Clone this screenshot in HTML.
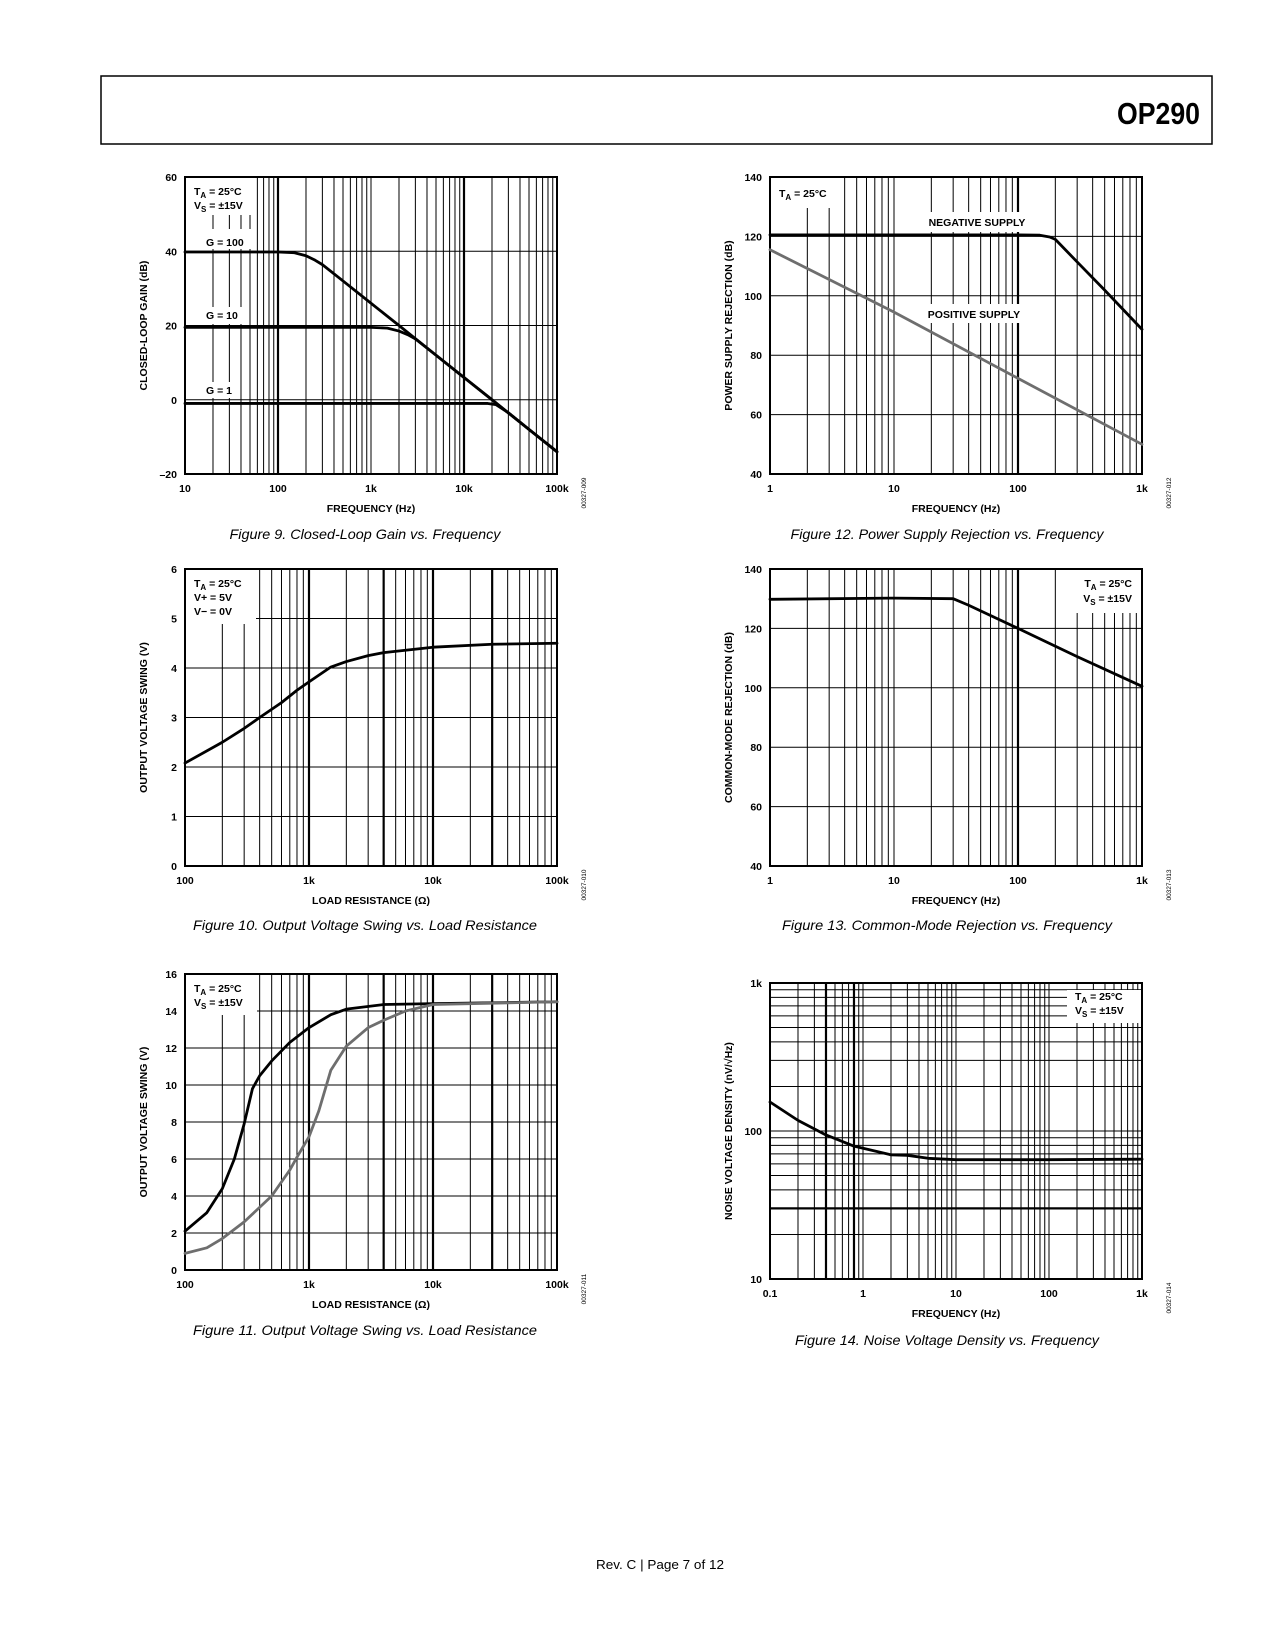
<!DOCTYPE html>
<html><head><meta charset="utf-8"><title>OP290 Typical Performance Characteristics</title>
<style>
html,body{margin:0;padding:0;background:#fff;}
svg{display:block;font-family:"Liberation Sans",Arial,sans-serif;}
.b{font-weight:bold;font-size:10.5px;}
.cap{font-style:italic;font-size:14px;}
</style></head>
<body>
<svg id="page" xmlns="http://www.w3.org/2000/svg" width="1275" height="1650" viewBox="0 0 1275 1650">
<rect x="0" y="0" width="1275" height="1650" fill="#fff"/>
<rect x="101" y="76" width="1111" height="68" fill="none" stroke="#000" stroke-width="1.5"/>
<text x="1200" y="124" text-anchor="end" font-size="31" font-weight="bold" textLength="83" lengthAdjust="spacingAndGlyphs">OP290</text>

<text class="cap" x="365" y="539" text-anchor="middle" textLength="271" lengthAdjust="spacingAndGlyphs">Figure 9. Closed-Loop Gain vs. Frequency</text>
<text class="cap" x="947" y="539" text-anchor="middle" textLength="313" lengthAdjust="spacingAndGlyphs">Figure 12. Power Supply Rejection vs. Frequency</text>
<text class="cap" x="365" y="930" text-anchor="middle" textLength="344" lengthAdjust="spacingAndGlyphs">Figure 10. Output Voltage Swing vs. Load Resistance</text>
<text class="cap" x="947" y="930" text-anchor="middle" textLength="330" lengthAdjust="spacingAndGlyphs">Figure 13. Common-Mode Rejection vs. Frequency</text>
<text class="cap" x="365" y="1335" text-anchor="middle" textLength="344" lengthAdjust="spacingAndGlyphs">Figure 11. Output Voltage Swing vs. Load Resistance</text>
<text class="cap" x="947" y="1345" text-anchor="middle" textLength="304" lengthAdjust="spacingAndGlyphs">Figure 14. Noise Voltage Density vs. Frequency</text>
<text x="660" y="1569" text-anchor="middle" font-size="13" textLength="128" lengthAdjust="spacingAndGlyphs">Rev. C | Page 7 of 12</text>
<g id="charts"></g>
<g id="legends">
  <text class="b" x="194" y="195">T<tspan font-size="8" dy="3">A</tspan><tspan dy="-3"> = 25°C</tspan></text>
  <text class="b" x="194" y="209">V<tspan font-size="8" dy="3">S</tspan><tspan dy="-3"> = ±15V</tspan></text>
  <text class="b" x="206" y="246">G = 100</text>
  <text class="b" x="206" y="319">G = 10</text>
  <text class="b" x="206" y="394">G = 1</text>
  <text class="b" x="779" y="197">T<tspan font-size="8" dy="3">A</tspan><tspan dy="-3"> = 25°C</tspan></text>
  <text class="b" x="977" y="226" text-anchor="middle">NEGATIVE SUPPLY</text>
  <text class="b" x="974" y="318" text-anchor="middle">POSITIVE SUPPLY</text>
  <text class="b" x="194" y="587">T<tspan font-size="8" dy="3">A</tspan><tspan dy="-3"> = 25°C</tspan></text>
  <text class="b" x="194" y="601">V+ = 5V</text>
  <text class="b" x="194" y="615">V− = 0V</text>
  <text class="b" x="1132" y="587" text-anchor="end">T<tspan font-size="8" dy="3">A</tspan><tspan dy="-3"> = 25°C</tspan></text>
  <text class="b" x="1132" y="602" text-anchor="end">V<tspan font-size="8" dy="3">S</tspan><tspan dy="-3"> = ±15V</tspan></text>
  <text class="b" x="194" y="992">T<tspan font-size="8" dy="3">A</tspan><tspan dy="-3"> = 25°C</tspan></text>
  <text class="b" x="194" y="1006">V<tspan font-size="8" dy="3">S</tspan><tspan dy="-3"> = ±15V</tspan></text>
  <text class="b" x="1075" y="1000">T<tspan font-size="8" dy="3">A</tspan><tspan dy="-3"> = 25°C</tspan></text>
  <text class="b" x="1075" y="1014">V<tspan font-size="8" dy="3">S</tspan><tspan dy="-3"> = ±15V</tspan></text>
</g>
</svg>
<script>
// ---------- data ----------
const fig9XLabels = ['10','100','1k','10k','100k'];
const fig9YTicks = [-20,0,20,40,60];
const fig9YLabels = ['–20','0','20','40','60'];
const fig9G100Freq = [10,100,150,200,250,300,500,1000,2000,5000,10000,20000,50000,100000];
const fig9G100Gain = [39.8,39.8,39.6,38.8,37.6,36.4,32,26,20,12,6,0,-8,-14];
const fig9G10Freq = [10,1000,1500,2000,2500,3000,5000,10000,20000,50000,100000];
const fig9G10Gain = [19.5,19.5,19.3,18.5,17.5,16.4,12,6,0,-8,-14];
const fig9G1Freq = [10,10000,18000,22000,30000,50000,100000];
const fig9G1Gain = [-1,-1,-1,-1.3,-3.5,-8,-14];

const fig12XLabels = ['1','10','100','1k'];
const fig12YTicks = [40,60,80,100,120,140];
const fig12NegFreq = [1,100,150,180,200,300,500,1000];
const fig12NegPsr = [120.5,120.5,120.4,119.8,119,111.4,101.9,88.7];
const fig12PosFreq = [1,10,100,1000];
const fig12PosPsr = [115.5,94.5,72.2,50];

const fig10XLabels = ['100','1k','10k','100k'];
const fig10YTicks = [0,1,2,3,4,5,6];
const fig10Load = [100,200,300,400,600,800,1000,1500,2000,3000,4000,10000,30000,100000];
const fig10Swing = [2.08,2.5,2.78,3.0,3.3,3.55,3.72,4.02,4.13,4.25,4.31,4.42,4.48,4.5];

const fig13XLabels = ['1','10','100','1k'];
const fig13YTicks = [40,60,80,100,120,140];
const fig13Freq = [1,10,30,40,100,300,1000];
const fig13Cmr = [129.8,130.2,130,127.8,120,110.5,100.5];

const fig11XLabels = ['100','1k','10k','100k'];
const fig11YTicks = [0,2,4,6,8,10,12,14,16];
const fig11BlackLoad = [100,150,200,250,300,350,400,500,700,1000,1500,2000,4000,10000,100000];
const fig11BlackSwing = [2.1,3.1,4.4,6,7.9,9.8,10.5,11.3,12.3,13.1,13.8,14.1,14.35,14.4,14.5];
const fig11GrayLoad = [100,150,200,300,500,700,800,1000,1200,1500,2000,3000,4000,6000,10000,100000];
const fig11GraySwing = [0.9,1.2,1.7,2.6,4,5.4,6.1,7.2,8.6,10.8,12.1,13.1,13.5,14.0,14.35,14.5];

const fig14XLabels = ['0.1','1','10','100','1k'];
const fig14YTicks = [10,100,1000];
const fig14YLabels = ['10','100','1k'];
const fig14Freq = [0.1,0.2,0.4,0.8,2,3,5,10,100,1000];
const fig14Noise = [157,118,94,79,69,68.5,65.4,64,64,64.5];

// ---------- drawing ----------
const NS = 'http://www.w3.org/2000/svg';
const root = document.getElementById('charts');
function mk(tag, attrs, parent){
  const e = document.createElementNS(NS, tag);
  for (const k in attrs) e.setAttribute(k, attrs[k]);
  parent.appendChild(e);
  return e;
}
function xScale(c, v){ return c.x0 + (Math.log10(v) - c.lmin) / (c.lmax - c.lmin) * (c.x1 - c.x0); }
function yScale(c, v){
  if (c.ylog) return c.y1 - (Math.log10(v) - c.ymin) / (c.ymax - c.ymin) * (c.y1 - c.y0);
  return c.y1 - (v - c.ymin) / (c.ymax - c.ymin) * (c.y1 - c.y0);
}

function drawChart(c){
  const g = mk('g', {}, root);
  
  
  for (let e = c.lmin; e < c.lmax; e++){
    for (let m = 1; m <= 9; m++){
      if (e === c.lmin && m === 1) continue;
      const v = m * Math.pow(10, e);
      const x = xScale(c, v);
      const thick = (c.thickX && c.thickX.indexOf(Math.round(Math.log10(v)*1000)) >= 0);
      const ln = mk('line', {x1:x, x2:x, y1:c.y0, y2:c.y1, stroke:'#000', 'stroke-width': thick ? 2.2 : 1}, g);
      
      
    }
  }
  if (c.ylog){
    for (let e = c.ymin; e < c.ymax; e++){
      for (let m = 1; m <= 9; m++){
        if (e === c.ymin && m === 1) continue;
        const v = m * Math.pow(10, e);
        const y = yScale(c, v);
        const ln = mk('line', {x1:c.x0, x2:c.x1, y1:y, y2:y, stroke:'#000', 'stroke-width': (m === 3 && e === c.ymin) ? 2.2 : 1}, g);
        
        
      }
    }
  } else {
    c.yTicks.forEach(function(v){
      const y = yScale(c, v);
      const ln = mk('line', {x1:c.x0, x2:c.x1, y1:y, y2:y, stroke:'#000', 'stroke-width':1}, g);
      
      
    });
  }
  (c.masks || []).forEach(function(r){
    const rc = mk('rect', {x:r[0], y:r[1], width:r[2]-r[0], height:r[3]-r[1], fill:'#fff'}, g);
    
    
  });
  const fr = mk('rect', {x:c.x0, y:c.y0, width:c.x1-c.x0, height:c.y1-c.y0, fill:'none', stroke:'#000', 'stroke-width':2}, g);
  
  
  c.series.forEach(function(s){
    let d = '';
    for (let i = 0; i < s.x.length; i++){
      d += (i ? 'L' : 'M') + xScale(c, s.x[i]).toFixed(2) + ',' + yScale(c, s.y[i]).toFixed(2);
    }
    const p = mk('path', {d:d, fill:'none', stroke:s.color, 'stroke-width':2.8, 'stroke-linejoin':'round', 'stroke-linecap':'round'}, g);
    
    
  });
  c.yTicks.forEach(function(v, i){
    const t = mk('text', {x:c.x0 - 8, y:yScale(c, v) + 4, 'text-anchor':'end', class:'b'}, g);
    t.textContent = c.yLabels[i];
    
    
  });
  c.xLabels.forEach(function(lbl, i){
    const x = c.x0 + i / (c.xLabels.length - 1) * (c.x1 - c.x0);
    const t = mk('text', {x:x, y:c.y1 + 18, 'text-anchor':'middle', class:'b'}, g);
    t.textContent = lbl;
    
    
  });
  const xt = mk('text', {x:(c.x0 + c.x1) / 2, y:c.y1 + 38, 'text-anchor':'middle', class:'b'}, g);
  xt.textContent = c.xTitle;
  
  
  const cy = (c.y0 + c.y1) / 2, cx = c.x0 - 38;
  const yt = mk('text', {x:cx, y:cy, 'text-anchor':'middle', class:'b', transform:'rotate(-90 ' + cx + ' ' + cy + ')'}, g);
  yt.textContent = c.yTitle;
  
  
  const ix = c.x1 + 29, iy = c.y1 + 19;
  const id = mk('text', {x:ix, y:iy, 'text-anchor':'middle', 'font-size':6.5, transform:'rotate(-90 ' + ix + ' ' + iy + ')'}, g);
  id.textContent = c.id;
  
  
}

const K = 'black', GR = '#6e6e6e';
drawChart({name:'fig9-closed-loop-gain-chart', x0:185, x1:557, y0:177, y1:474, lmin:1, lmax:5, ymin:-20, ymax:60,
  thickX:[2000,4000], yTicks:fig9YTicks, yLabels:fig9YLabels, xLabels:fig9XLabels,
  xTitle:'FREQUENCY (Hz)', yTitle:'CLOSED-LOOP GAIN (dB)', id:'00327-009',
  masks:[[186,178,253,215],[200,229,256,249],[200,307,245,324],[200,382,240,398]],
  series:[{name:'g100-curve', x:fig9G100Freq, y:fig9G100Gain, color:K},
          {name:'g10-curve', x:fig9G10Freq, y:fig9G10Gain, color:K},
          {name:'g1-curve', x:fig9G1Freq, y:fig9G1Gain, color:K}]});
drawChart({name:'fig12-psr-chart', x0:770, x1:1142, y0:177, y1:474, lmin:0, lmax:3, ymin:40, ymax:140,
  thickX:[2000], yTicks:fig12YTicks, yLabels:fig12YTicks.map(String), xLabels:fig12XLabels,
  xTitle:'FREQUENCY (Hz)', yTitle:'POWER SUPPLY REJECTION (dB)', id:'00327-012',
  masks:[[771,178,842,208],[915,212,1040,232],[912,304,1036,323]],
  series:[{name:'negative-supply-curve', x:fig12NegFreq, y:fig12NegPsr, color:K},
          {name:'positive-supply-curve', x:fig12PosFreq, y:fig12PosPsr, color:GR}]});
drawChart({name:'fig10-output-swing-5v-chart', x0:185, x1:557, y0:569, y1:866, lmin:2, lmax:5, ymin:0, ymax:6,
  thickX:[3000,3602,4000,4477], yTicks:fig10YTicks, yLabels:fig10YTicks.map(String), xLabels:fig10XLabels,
  xTitle:'LOAD RESISTANCE (Ω)', yTitle:'OUTPUT VOLTAGE SWING (V)', id:'00327-010',
  masks:[[186,570,256,624]],
  series:[{name:'swing-curve', x:fig10Load, y:fig10Swing, color:K}]});
drawChart({name:'fig13-cmr-chart', x0:770, x1:1142, y0:569, y1:866, lmin:0, lmax:3, ymin:40, ymax:140,
  thickX:[2000], yTicks:fig13YTicks, yLabels:fig13YTicks.map(String), xLabels:fig13XLabels,
  xTitle:'FREQUENCY (Hz)', yTitle:'COMMON-MODE REJECTION (dB)', id:'00327-013',
  masks:[[1067,570,1141,613]],
  series:[{name:'cmr-curve', x:fig13Freq, y:fig13Cmr, color:K}]});
drawChart({name:'fig11-output-swing-15v-chart', x0:185, x1:557, y0:974, y1:1270, lmin:2, lmax:5, ymin:0, ymax:16,
  thickX:[3000,3602,4000,4477], yTicks:fig11YTicks, yLabels:fig11YTicks.map(String), xLabels:fig11XLabels,
  xTitle:'LOAD RESISTANCE (Ω)', yTitle:'OUTPUT VOLTAGE SWING (V)', id:'00327-011',
  masks:[[186,975,257,1015]],
  series:[{name:'swing-curve-positive', x:fig11BlackLoad, y:fig11BlackSwing, color:K},
          {name:'swing-curve-negative', x:fig11GrayLoad, y:fig11GraySwing, color:GR}]});
drawChart({name:'fig14-noise-density-chart', x0:770, x1:1142, y0:983, y1:1279, lmin:-1, lmax:3, ymin:1, ymax:3, ylog:true,
  thickX:[-398,-97], yTicks:fig14YTicks, yLabels:fig14YLabels, xLabels:fig14XLabels,
  xTitle:'FREQUENCY (Hz)', yTitle:'NOISE VOLTAGE DENSITY (nV/√Hz)', id:'00327-014',
  masks:[[1067,990,1141,1023]],
  series:[{name:'noise-curve', x:fig14Freq, y:fig14Noise, color:K}]});
</script>
</body></html>
